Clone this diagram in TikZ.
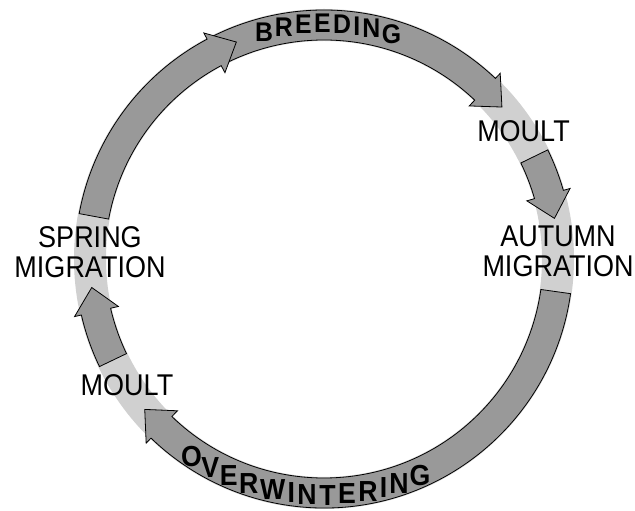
\documentclass[tikz,border=0pt]{standalone}
\usepackage{fontspec}
\setmainfont{Liberation Sans}
\newfontfamily\labelFont[FakeStretch=0.9]{Liberation Sans}
\newfontfamily\arcFont[FakeStretch=0.92]{Liberation Sans}
\usepackage{tikz}
\usetikzlibrary{decorations.text}
\definecolor{ringGray}{HTML}{D0D0D0}
\definecolor{arrowGray}{HTML}{999999}
\newcommand{\breedFont}{\arcFont\fontsize{27}{27}\selectfont\bfseries}
\newcommand{\winterFont}{\arcFont\fontsize{29}{29}\selectfont\bfseries}
\newcommand{\stageArrow}[2]{%
  \pgfmathsetmacro{\headAngle}{#2+6}
  \draw[stagearrow] (#1:249pt) arc[start angle=#1, end angle=\headAngle, radius=249pt]
    -- (\headAngle:256pt) -- (#2:234pt) -- (\headAngle:211pt)
    -- (\headAngle:219pt) arc[start angle=\headAngle, end angle=#1, radius=219pt] -- cycle;
}
\tikzset{
  stagearrow/.style={fill=arrowGray, draw=black, line width=0.8pt},
  stagelabel/.style={font=\labelFont\fontsize{30}{30}\selectfont, align=center, inner sep=0pt}
}

\begin{document}
\begin{tikzpicture}[x=1pt, y=1pt]
    \useasboundingbox (-324,-252) rectangle (311,259);
    \draw[ringGray, line width=32pt] (0,0) circle[radius=234pt];
    \stageArrow{117}{40.5}
    \stageArrow{169.5}{112}
    \stageArrow{26}{10}
    \stageArrow{-8}{-140}
    \stageArrow{205.6}{187}
    \path[decorate, decoration={text effects along path, text=BREEDING, text align=center,
        text effects/.cd, character widths={font=\breedFont, inner xsep=1.2pt},
        characters={font=\breedFont, inner xsep=0pt, anchor=base}}]
        (148.9:226pt) arc[start angle=148.9, end angle=28.9, radius=226pt];
    \path[decorate, decoration={text effects along path, text=OVERWINTERING, text align=center,
        text effects/.cd, character widths={font=\winterFont, inner xsep=1.3pt},
        characters={font=\winterFont, inner xsep=0pt, anchor=base}}]
        (195.2:246pt) arc[start angle=195.2, end angle=335.2, radius=246pt];
    \node[stagelabel] (moultTop) at (199.5,128) {MOULT};
    \node[stagelabel] (autumn) at (234,7.5) {AUTUMN\\MIGRATION};
    \node[stagelabel] (spring) at (-234,7) {SPRING\\MIGRATION};
    \node[stagelabel] (moultBottom) at (-197,-126) {MOULT};
\end{tikzpicture}
\end{document}
